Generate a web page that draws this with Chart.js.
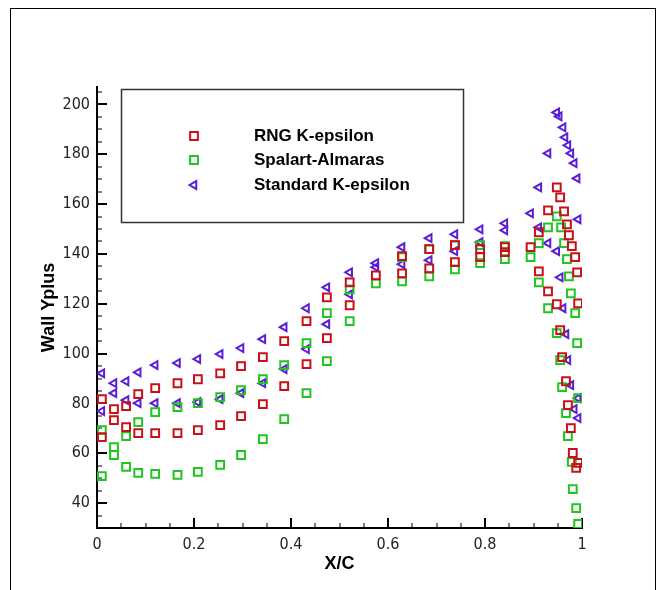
<!DOCTYPE html>
<html>
<head>
<meta charset="utf-8">
<title>Wall Yplus</title>
<script src="https://cdn.jsdelivr.net/npm/chart.js@4.4.1/dist/chart.umd.min.js"></script>
<style>
  body { margin: 0; background: #fff; overflow: hidden; }
  #wrap { position: relative; width: 662px; height: 590px; }
  #frame { position: absolute; left: 10px; top: 8px; width: 644px; height: 640px; border: 1px solid #000; }
  canvas { position: absolute; left: 0; top: 0; }
</style>
</head>
<body>
<div id="wrap">
  <div id="frame"></div>
  <canvas id="wallChart" width="662" height="590"></canvas>
</div>
<script>
// Wall y+ along the chord, three turbulence models (upper + lower surface)

const seriesNames = ['RNG K-epsilon', 'Spalart-Almaras', 'Standard K-epsilon'];
const xTicks = [0, 0.2, 0.4, 0.6, 0.8, 1];
const yTicks = [40, 60, 80, 100, 120, 140, 160, 180, 200];

// RNG K-epsilon
const rngX = [0.010, 0.035, 0.060, 0.085, 0.120, 0.166, 0.208, 0.254, 0.297, 0.342, 0.386, 0.432, 0.474, 0.521, 0.575,
  0.010, 0.035, 0.060, 0.085, 0.120, 0.166, 0.208, 0.254, 0.297, 0.342, 0.386, 0.432, 0.474, 0.521,
  0.629, 0.629, 0.685, 0.685, 0.738, 0.738, 0.790, 0.790, 0.841, 0.841, 0.894, 0.911, 0.911,
  0.930, 0.930, 0.948, 0.955, 0.963, 0.969, 0.973, 0.979, 0.986, 0.990, 0.992, 0.948, 0.955, 0.959, 0.967, 0.971, 0.977, 0.981, 0.992, 0.988];
const rngY = [81.7, 77.7, 78.9, 83.7, 86.1, 88.1, 89.7, 92.1, 95.0, 98.6, 105.0, 113.0, 122.6, 128.6, 131.4,
  66.5, 73.3, 70.5, 68.1, 68.1, 68.1, 69.3, 71.3, 74.9, 79.7, 86.9, 95.8, 106.2, 119.4,
  139.1, 132.2, 141.9, 134.2, 143.5, 136.7, 141.9, 138.7, 142.7, 140.7, 142.7, 148.7, 133.0,
  157.5, 125.0, 166.7, 162.7, 157.1, 151.9, 147.5, 143.1, 138.7, 132.6, 120.2, 119.8, 109.4, 98.6, 88.9, 79.3, 70.1, 60.1, 56.1, 54.1];

// Spalart-Almaras
const saX = [0.010, 0.035, 0.060, 0.085, 0.120, 0.166, 0.208, 0.254, 0.297, 0.342, 0.386, 0.432, 0.474, 0.521, 0.575,
  0.010, 0.035, 0.060, 0.085, 0.120, 0.166, 0.208, 0.254, 0.297, 0.342, 0.386, 0.432, 0.474, 0.521,
  0.629, 0.629, 0.685, 0.685, 0.738, 0.738, 0.790, 0.790, 0.841, 0.841, 0.894, 0.911, 0.911,
  0.930, 0.930, 0.948, 0.957, 0.963, 0.969, 0.973, 0.977, 0.986, 0.948, 0.990, 0.955, 0.959, 0.992, 0.967, 0.971, 0.979, 0.981, 0.988, 0.992];
const saY = [69.3, 62.5, 66.9, 72.5, 76.5, 78.5, 80.1, 82.5, 85.3, 89.7, 95.4, 104.2, 116.2, 125.8, 128.2,
  50.8, 59.3, 54.5, 52.1, 51.7, 51.3, 52.5, 55.3, 59.3, 65.7, 73.7, 84.1, 97.0, 113.0,
  138.7, 129.0, 141.9, 131.0, 143.5, 133.8, 143.5, 136.3, 143.1, 137.9, 138.7, 144.3, 128.6,
  150.7, 118.2, 155.1, 150.7, 144.3, 137.9, 131.0, 124.2, 116.2, 108.2, 104.2, 97.4, 86.5, 82.1, 76.1, 66.9, 56.5, 45.6, 38.0, 31.6];

// Standard K-epsilon
const skeX = [0.010, 0.035, 0.060, 0.085, 0.120, 0.166, 0.208, 0.254, 0.297, 0.342, 0.386, 0.432, 0.474, 0.521, 0.575,
  0.010, 0.035, 0.060, 0.085, 0.120, 0.166, 0.208, 0.254, 0.297, 0.342, 0.386, 0.432, 0.474, 0.521, 0.575,
  0.629, 0.629, 0.685, 0.685, 0.738, 0.738, 0.790, 0.790, 0.841, 0.841, 0.894,
  0.911, 0.911, 0.930, 0.930, 0.948, 0.953, 0.961, 0.965, 0.971, 0.977, 0.984, 0.990, 0.992, 0.948, 0.955, 0.961, 0.967, 0.971, 0.977, 0.992, 0.984, 0.992];
const skeY = [92.1, 88.1, 88.9, 92.5, 95.4, 96.2, 97.8, 99.8, 102.2, 105.8, 110.6, 118.2, 126.6, 132.6, 136.3,
  76.9, 84.1, 81.3, 80.1, 80.1, 80.1, 80.5, 81.7, 84.1, 88.1, 93.8, 101.8, 111.8, 123.8, 134.7,
  142.7, 135.9, 146.3, 137.5, 147.9, 141.1, 149.9, 144.7, 152.3, 149.5, 156.3,
  166.7, 150.7, 180.4, 144.3, 196.8, 195.2, 190.8, 186.8, 183.6, 180.4, 176.4, 170.3, 153.9, 141.1, 130.6, 118.2, 107.8, 97.4, 87.3, 82.1, 77.7, 74.1];

const colors = ['#c8101a', '#22c422', '#5a1ed8'];
const styles = ['rect', 'rect', 'triangle'];
const radii = [5.5, 5.5, 4.5];

function toPoints(xs, ys) {
    return xs.map((x, i) => ({ x: x, y: ys[i] }));
}

const tickFont = { family: '"DejaVu Sans Condensed", "Liberation Sans Narrow", sans-serif', size: 16 };
const boldFont = { family: '"Liberation Sans", Arial, sans-serif', size: 18, weight: 'bold' };

// minor/major tick marks pointing into the plot (Tecplot style)
const axisTicks = {
    id: 'axisTicks',
    beforeDatasetsDraw(chart) {
        const ctx = chart.ctx;
        const xs = chart.scales.x, ys = chart.scales.y;
        const a = chart.chartArea;
        ctx.save();
        ctx.strokeStyle = '#000';
        for (let i = 0; i <= 20; i++) {
            const px = Math.round(xs.getPixelForValue(i * 0.05));
            const major = i % 4 === 0;
            ctx.lineWidth = major ? 2 : 1;
            ctx.beginPath();
            ctx.moveTo(px, a.bottom);
            ctx.lineTo(px, a.bottom - (major ? 10 : 5));
            ctx.stroke();
        }
        for (let v = 35; v <= 205; v += 5) {
            const py = Math.round(ys.getPixelForValue(v));
            const major = v % 20 === 0;
            ctx.lineWidth = major ? 2 : 1;
            ctx.beginPath();
            ctx.moveTo(a.left, py);
            ctx.lineTo(a.left + (major ? 10 : 5), py);
            ctx.stroke();
        }
        ctx.restore();
    }
};

// boxed legend inside the plot, top-left
const boxLegend = {
    id: 'boxLegend',
    afterDraw(chart) {
        const ctx = chart.ctx;
        ctx.save();
        ctx.strokeStyle = '#333';
        ctx.lineWidth = 1.5;
        ctx.strokeRect(121.5, 89.5, 342, 133);
        ctx.font = 'bold 17px "Liberation Sans", Arial, sans-serif';
        ctx.textBaseline = 'middle';
        const rows = [136, 160, 185];
        seriesNames.forEach((name, i) => {
            ctx.fillStyle = 'rgba(0,0,0,0)';
            ctx.strokeStyle = colors[i];
            ctx.lineWidth = 2;
            Chart.helpers.drawPoint(ctx, {
                pointStyle: styles[i],
                radius: radii[i],
                rotation: styles[i] === 'triangle' ? -90 : 0,
                borderWidth: 2
            }, 194, rows[i]);
            ctx.fillStyle = '#000';
            ctx.fillText(name, 254, rows[i]);
        });
        ctx.restore();
    }
};

const ctx = document.getElementById('wallChart').getContext('2d');
new Chart(ctx, {
    type: 'scatter',
    data: {
        datasets: [
            { label: seriesNames[0], data: toPoints(rngX, rngY) },
            { label: seriesNames[1], data: toPoints(saX, saY) },
            { label: seriesNames[2], data: toPoints(skeX, skeY) }
        ].map((d, i) => Object.assign(d, {
            pointStyle: styles[i],
            rotation: styles[i] === 'triangle' ? -90 : 0,
            radius: radii[i],
            borderColor: colors[i],
            backgroundColor: 'rgba(0,0,0,0)',
            borderWidth: 2
        }))
    },
    options: {
        responsive: false,
        animation: false,
        layout: { padding: { left: 0, top: 87, right: 80, bottom: 0 } },
        plugins: { legend: { display: false }, tooltip: { enabled: false } },
        scales: {
            x: {
                type: 'linear',
                min: 0,
                max: 1,
                afterFit: s => { s.height = 62; },
                afterBuildTicks: s => { s.ticks = xTicks.map(v => ({ value: v })); },
                grid: { drawOnChartArea: false, drawTicks: false },
                border: { color: '#000', width: 2 },
                ticks: { color: '#222', font: tickFont, padding: 7, maxRotation: 0, callback: v => String(v) },
                title: { display: true, text: 'X/C', color: '#000', font: boldFont, padding: { bottom: 15 } }
            },
            y: {
                type: 'linear',
                min: 30,
                max: 207,
                afterFit: s => { s.width = 97; },
                afterBuildTicks: s => { s.ticks = yTicks.map(v => ({ value: v })); },
                grid: { drawOnChartArea: false, drawTicks: false },
                border: { color: '#000', width: 2 },
                ticks: { color: '#222', font: tickFont, padding: 7, callback: v => String(v) },
                title: { display: true, text: 'Wall Yplus', color: '#000', font: boldFont, padding: { top: 38 } }
            }
        }
    },
    plugins: [axisTicks, boxLegend]
});
</script>
</body>
</html>
